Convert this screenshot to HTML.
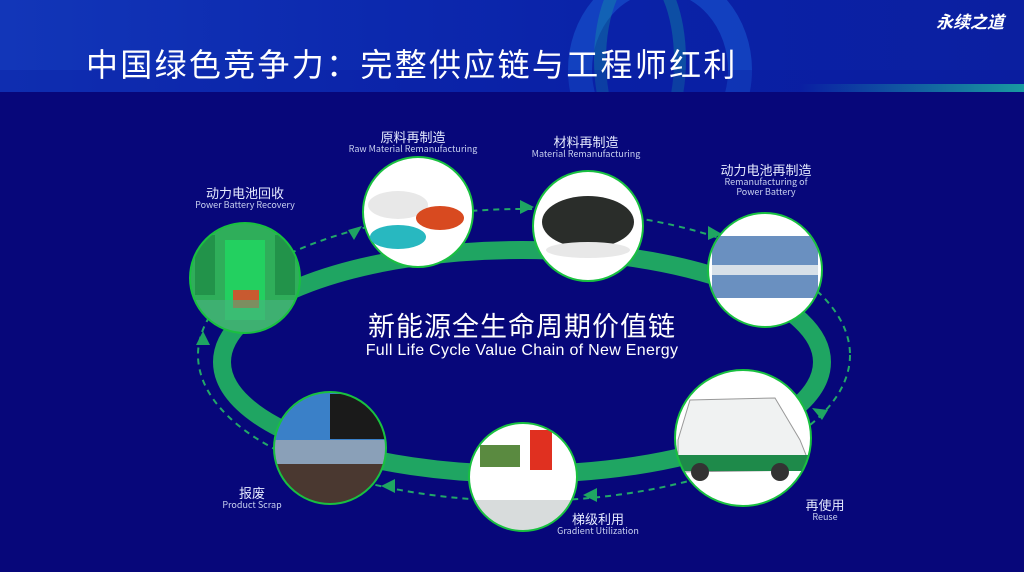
<!DOCTYPE html>
<html><head><meta charset="utf-8"><style>
body{margin:0;width:1024px;height:572px;overflow:hidden;background:#07077a;font-family:"Liberation Sans","Noto Sans CJK SC",sans-serif;}
.hdr{position:absolute;left:0;top:0;width:1024px;height:92px;background:linear-gradient(90deg,#1236b8 0%,#0d2bb0 30%,#0a22a8 60%,#0b1fa0 100%);overflow:hidden}
.title{position:absolute;left:86px;top:40px;font-size:32px;color:#fff;letter-spacing:2.3px;font-family:"Noto Sans CJK SC",sans-serif;line-height:46px}
.logo{position:absolute;left:936px;top:8px;font-size:17px;color:#fff;font-weight:bold;font-family:"Noto Sans CJK SC",sans-serif;font-style:italic}
.lbl{position:absolute;color:#e6ebff;text-align:center;font-family:"Noto Sans CJK SC",sans-serif;line-height:1.1;transform:translateX(-50%);white-space:nowrap}
.lbl b{display:block;font-size:13px;font-weight:normal}
.lbl i{display:block;font-style:normal;font-size:9px;color:#c8d0f0}
</style></head><body>
<div class="hdr">
<svg width="1024" height="92" style="position:absolute;left:0;top:0">
<ellipse cx="660" cy="70" rx="80" ry="90" fill="none" stroke="#1a5fd8" stroke-width="24" opacity=".5"/>
<ellipse cx="640" cy="60" rx="40" ry="90" fill="none" stroke="#13a0a0" stroke-width="12" opacity=".35"/>
<rect x="0" y="70" width="1024" height="22" fill="#0a1aa0" opacity=".3"/>
<defs><linearGradient id="tg" x1="0" x2="1"><stop offset="0" stop-color="#1fd0a0" stop-opacity="0"/><stop offset="1" stop-color="#1fd0a0" stop-opacity=".7"/></linearGradient></defs>
<rect x="800" y="84" width="224" height="8" fill="url(#tg)"/>
</svg>
</div>
<div class="title">中国绿色竞争力：完整供应链与工程师红利</div>
<div class="logo">永续之道</div>
<svg width="1024" height="572" style="position:absolute;left:0;top:0">
<defs>
<clipPath id="c1"><circle cx="245" cy="278" r="55"/></clipPath>
<clipPath id="c2"><circle cx="418" cy="212" r="55"/></clipPath>
<clipPath id="c3"><circle cx="588" cy="226" r="55"/></clipPath>
<clipPath id="c4"><circle cx="765" cy="270" r="57"/></clipPath>
<clipPath id="c5"><circle cx="743" cy="438" r="68"/></clipPath>
<clipPath id="c6"><circle cx="523" cy="477" r="54"/></clipPath>
<clipPath id="c7"><circle cx="330" cy="448" r="56"/></clipPath>
</defs>
<ellipse cx="524" cy="355" rx="326" ry="146" fill="none" stroke="#22a868" stroke-width="2" stroke-dasharray="6,5"/>
<ellipse cx="522" cy="362" rx="300" ry="112" fill="none" stroke="#1fa562" stroke-width="18"/>
<polygon points="348,230 362,226 354,240" fill="#1fa562"/>
<polygon points="520,200 534,207 520,214" fill="#1fa562"/>
<polygon points="708,226 722,234 708,240" fill="#1fa562"/>
<polygon points="822,420 812,408 828,410" fill="#1fa562"/>
<polygon points="597,488 583,495 597,502" fill="#1fa562"/>
<polygon points="395,479 381,486 395,493" fill="#1fa562"/>
<polygon points="196,345 203,331 210,345" fill="#1fa562"/>
<g clip-path="url(#c1)"><rect x="188" y="220" width="115" height="120" fill="#2fae5a"/>
<rect x="225" y="240" width="40" height="80" fill="#23d060"/><rect x="233" y="290" width="26" height="18" fill="#c85a30"/>
<rect x="188" y="300" width="115" height="40" fill="#4ab080" opacity=".6"/><rect x="195" y="235" width="20" height="60" fill="#1a8040" opacity=".6"/><rect x="275" y="235" width="20" height="60" fill="#1a8040" opacity=".6"/></g>
<circle cx="245" cy="278" r="55" fill="none" stroke="#19c040" stroke-width="2"/>
<circle cx="418" cy="212" r="55" fill="#fff" stroke="#19c040" stroke-width="2"/>
<g clip-path="url(#c2)"><ellipse cx="398" cy="205" rx="30" ry="14" fill="#e8e8e8"/>
<ellipse cx="440" cy="218" rx="24" ry="12" fill="#d84a20"/>
<ellipse cx="398" cy="237" rx="28" ry="12" fill="#28b8c0"/></g>
<circle cx="588" cy="226" r="55" fill="#fff" stroke="#19c040" stroke-width="2"/>
<g clip-path="url(#c3)"><ellipse cx="588" cy="222" rx="46" ry="26" fill="#2a2d2a"/>
<ellipse cx="588" cy="250" rx="42" ry="8" fill="#e8e8e8"/></g>
<circle cx="765" cy="270" r="57" fill="#fff"/>
<g clip-path="url(#c4)"><rect x="712" y="236" width="106" height="62" fill="#6a90c0"/>
<rect x="712" y="265" width="106" height="10" fill="#d8e0e8"/></g>
<circle cx="765" cy="270" r="57" fill="none" stroke="#19c040" stroke-width="2"/>
<circle cx="743" cy="438" r="68" fill="#fff"/>
<g clip-path="url(#c5)"><path d="M678 440 L690 400 L775 398 L800 440 L812 470 L678 472Z" fill="#f0f2f2" stroke="#999"/>
<rect x="675" y="455" width="140" height="16" fill="#1e8a4a"/>
<circle cx="700" cy="472" r="9" fill="#333"/><circle cx="780" cy="472" r="9" fill="#333"/></g>
<circle cx="743" cy="438" r="68" fill="none" stroke="#19c040" stroke-width="2"/>
<circle cx="523" cy="477" r="54" fill="#fff"/>
<g clip-path="url(#c6)"><rect x="470" y="500" width="110" height="30" fill="#d8dcdc"/>
<rect x="480" y="445" width="40" height="22" fill="#5a8a40"/>
<rect x="530" y="430" width="22" height="40" fill="#e03020"/></g>
<circle cx="523" cy="477" r="54" fill="none" stroke="#19c040" stroke-width="2"/>
<g clip-path="url(#c7)"><rect x="272" y="390" width="118" height="120" fill="#5a6a80"/>
<rect x="272" y="390" width="118" height="52" fill="#3a80c8"/>
<rect x="330" y="394" width="55" height="45" fill="#1a1a1a"/>
<rect x="272" y="440" width="118" height="24" fill="#8aa0b8"/>
<rect x="272" y="464" width="118" height="45" fill="#4a3830"/></g>
<circle cx="330" cy="448" r="56" fill="none" stroke="#19c040" stroke-width="2"/>
</svg>
<div class="lbl" style="left:413px;top:130px"><b>原料再制造</b><i>Raw Material Remanufacturing</i></div>
<div class="lbl" style="left:586px;top:135px"><b>材料再制造</b><i>Material Remanufacturing</i></div>
<div class="lbl" style="left:766px;top:163px"><b>动力电池再制造</b><i>Remanufacturing of<br>Power Battery</i></div>
<div class="lbl" style="left:245px;top:186px"><b>动力电池回收</b><i>Power Battery Recovery</i></div>
<div class="lbl" style="left:252px;top:486px"><b>报废</b><i>Product Scrap</i></div>
<div class="lbl" style="left:598px;top:512px"><b>梯级利用</b><i>Gradient Utilization</i></div>
<div class="lbl" style="left:825px;top:498px"><b>再使用</b><i>Reuse</i></div>
<div class="lbl" style="left:522px;top:310px;color:#fff"><b style="font-size:27px;letter-spacing:1px">新能源全生命周期价值链</b><i style="font-size:16px;color:#fff;font-family:'Liberation Sans',sans-serif;margin-top:2px;letter-spacing:.3px">Full Life Cycle Value Chain of New Energy</i></div>
</body></html>
